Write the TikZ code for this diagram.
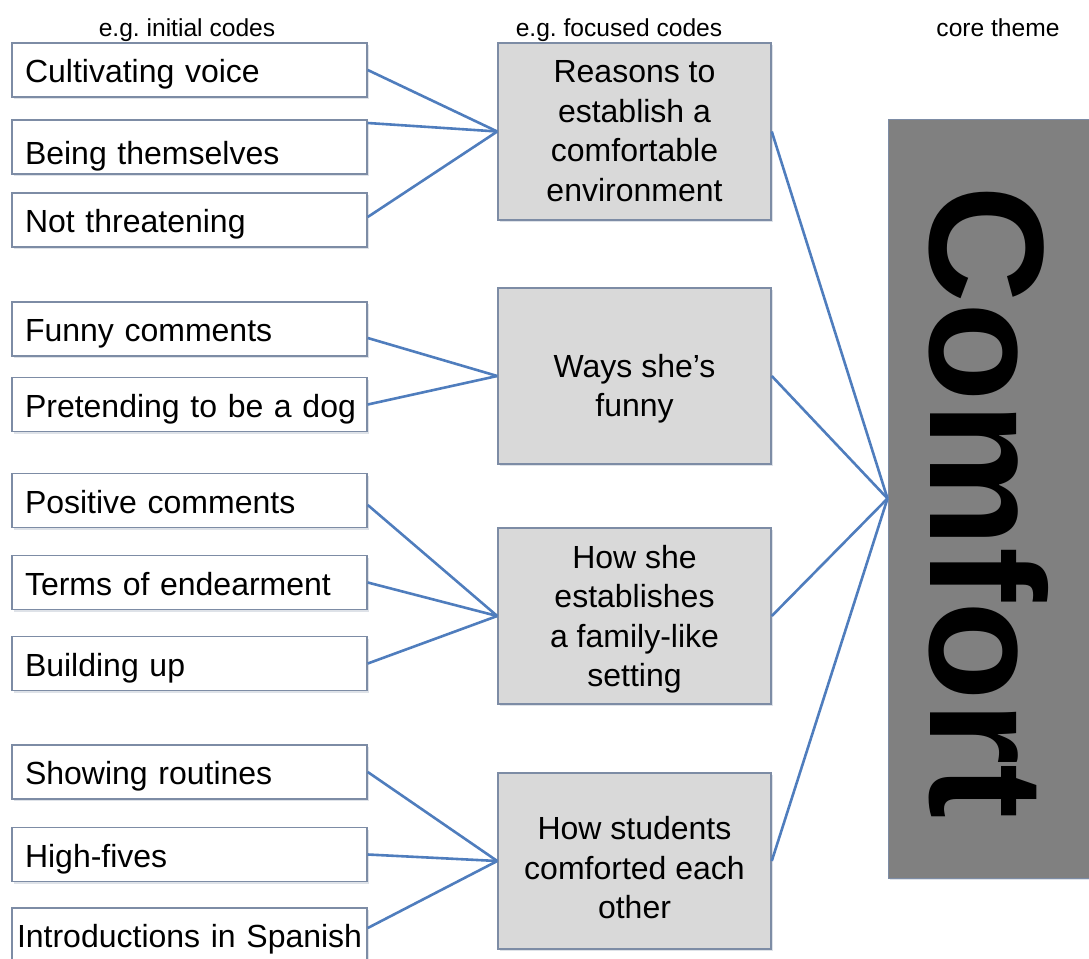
\documentclass[tikz,border=0pt]{standalone}
\usepackage{fontspec}
\setmainfont{Liberation Sans}
\usetikzlibrary{calc,shadows}
\definecolor{linkblue}{RGB}{79,125,189}
\definecolor{boxedge}{RGB}{125,140,165}
\definecolor{midfill}{RGB}{217,217,217}
\definecolor{corefill}{RGB}{128,128,128}
\frenchspacing
\begin{document}
\begin{tikzpicture}[x=1pt,y=-1pt,
  softshadow/.style={drop shadow={shadow xshift=1.5pt, shadow yshift=-2pt, opacity=0.25, fill=boxedge}},
  codebox/.style={draw=boxedge, line width=1.5pt, fill=white, softshadow,
    minimum width=355pt, minimum height=54pt, text width=329pt, inner xsep=13pt, inner ysep=0pt,
    align=left, text height=30pt, text depth=5pt, font=\fontsize{32}{38}\selectfont},
  focusbox/.style={draw=boxedge, line width=1.5pt, fill=midfill, softshadow,
    minimum width=273pt, minimum height=176pt},
  focustext/.style={align=center, inner sep=0pt, font=\fontsize{32}{39.5}\selectfont},
  link/.style={draw=linkblue, line width=2.6pt},
  header/.style={anchor=base, inner sep=0pt, font=\fontsize{24.6}{28}\selectfont}]
\useasboundingbox (0,0) rectangle (1089,958);
\begin{scope}
\clip (0,0) rectangle (1089,958);
% headers
\node[header] (h1) at (187,37) {e.g. initial codes};
\node[header] (h2) at (619,37) {e.g. focused codes};
\node[header] (h3) at (998,37) {core theme};
% initial codes
\node[codebox] (c1) at (189.5,70) {\mbox{Cultivating voice}};
\node[codebox, text height=34pt, text depth=0pt] (c2) at (189.5,147) {\mbox{Being themselves}};
\node[codebox] (c3) at (189.5,220) {\mbox{Not threatening}};
\node[codebox] (c4) at (189.5,329) {\mbox{Funny comments}};
\node[codebox] (c5) at (189.5,404.5) {\mbox{Pretending to be a dog}};
\node[codebox] (c6) at (189.5,500.5) {\mbox{Positive comments}};
\node[codebox] (c7) at (189.5,582.5) {\mbox{Terms of endearment}};
\node[codebox] (c8) at (189.5,663.5) {\mbox{Building up}};
\node[codebox] (c9) at (189.5,772) {\mbox{Showing routines}};
\node[codebox] (c10) at (189.5,854.5) {\mbox{High-fives}};
\node[codebox, text width=345pt, inner xsep=5pt] (c11) at (189.5,935) {\mbox{Introductions in Spanish}};
% focused codes
\node[focusbox, minimum height=177pt] (f1) at (634.5,131.5) {};
\node[focusbox] (f2) at (634.5,376) {};
\node[focusbox] (f3) at (634.5,616) {};
\node[focusbox] (f4) at (634.5,861) {};
\node[focustext] (f1t) at (634.5,131) {Reasons to\\establish a\\comfortable\\environment};
\node[focustext] (f2t) at (634.5,388.5) {Ways she’s\\funny};
\node[focustext] (f3t) at (634.5,619) {How she\\establishes\\a family-like\\setting};
\node[focustext] (f4t) at (634.5,867.8) {How students\\comforted each\\other};
% core theme
\node[draw=boxedge, line width=1pt, fill=corefill, softshadow, minimum width=207pt, minimum height=759pt, inner sep=0pt] (core) at (991.5,498.5) {};
\node[rotate=-90, inner sep=0pt, font=\bfseries\fontsize{163}{163}\selectfont] (coreword) at (988.5,502) {Comfort};
% connectors
\draw[link] (c1.east) -- (f1.west);
\draw[link] ([yshift=24pt]c2.east) -- (f1.west);
\draw[link] ([yshift=3pt]c3.east) -- (f1.west);
\draw[link] ([yshift=-9pt]c4.east) -- (f2.west);
\draw[link] (c5.east) -- (f2.west);
\draw[link] ([yshift=-4.5pt]c6.east) -- (f3.west);
\draw[link] (c7.east) -- (f3.west);
\draw[link] (c8.east) -- (f3.west);
\draw[link] (c9.east) -- (f4.west);
\draw[link] (c10.east) -- (f4.west);
\draw[link] ([yshift=7pt]c11.east) -- (f4.west);
\draw[link] (f1.east) -- (core.west);
\draw[link] (f2.east) -- (core.west);
\draw[link] (f3.east) -- (core.west);
\draw[link] (f4.east) -- (core.west);
\end{scope}
\end{tikzpicture}
\end{document}
